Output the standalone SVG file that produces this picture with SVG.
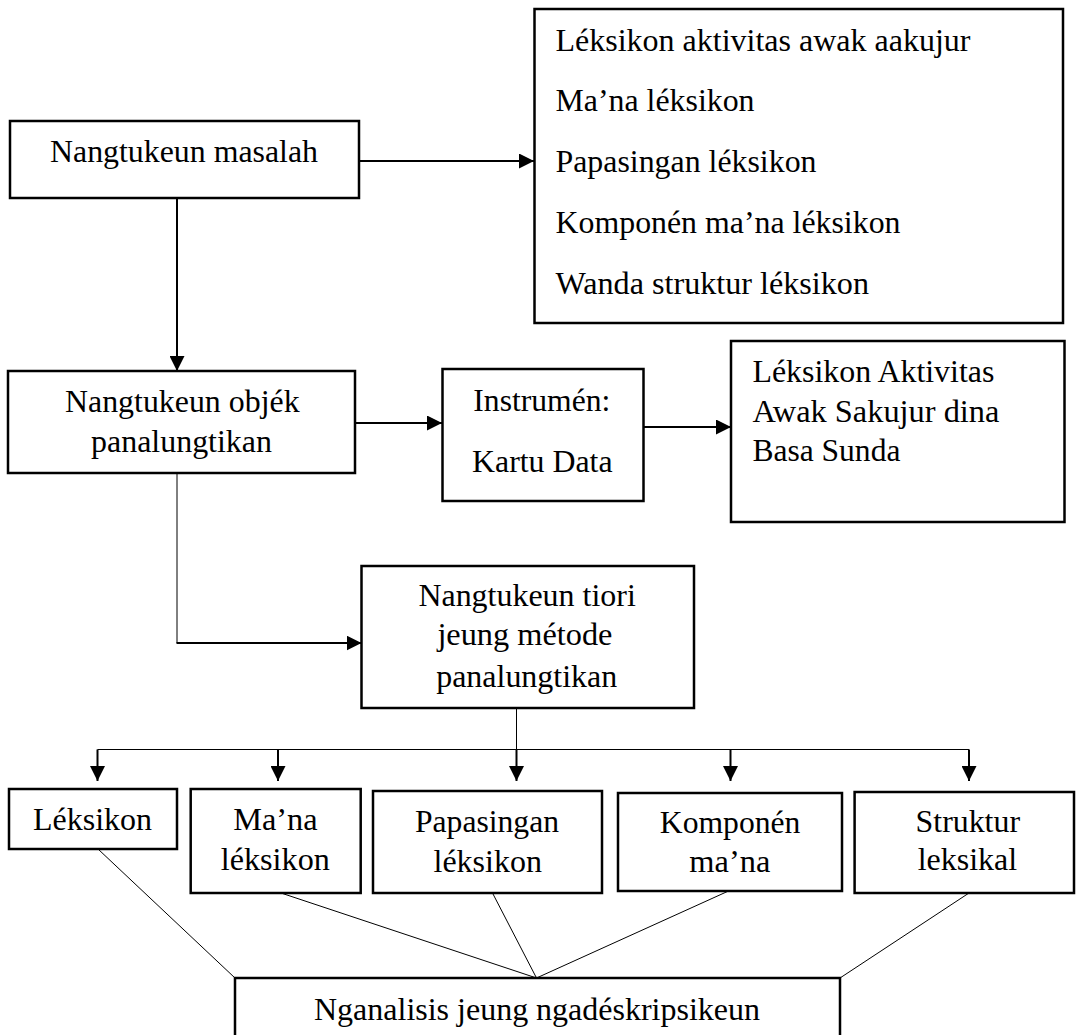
<svg xmlns="http://www.w3.org/2000/svg" width="1076" height="1035" viewBox="0 0 1076 1035" font-family="Liberation Serif" font-size="32">
<style>
.box{fill:#fff;stroke:#000;stroke-width:2.5}
.t{font-family:'Liberation Serif',serif;font-size:32px;fill:#000}
.thick{stroke:#000;stroke-width:2;fill:none}
.thin{stroke:#000;stroke-width:1;fill:none}
</style>
<defs>
<marker id="ah" markerUnits="userSpaceOnUse" markerWidth="15" markerHeight="15" refX="15" refY="7.5" orient="auto">
<path d="M0,0 L15,7.5 L0,15 z" fill="#000"/>
</marker>
</defs>
<rect width="1076" height="1035" fill="#fff"/>
<g id="connectors">
<line class="thick" x1="359" y1="161" x2="534" y2="161" marker-end="url(#ah)"/>
<line class="thick" x1="177" y1="198" x2="177" y2="371" marker-end="url(#ah)"/>
<line class="thick" x1="355" y1="423" x2="442" y2="423" marker-end="url(#ah)"/>
<line class="thick" x1="643" y1="427" x2="731" y2="427" marker-end="url(#ah)"/>
<line class="thin" x1="177" y1="473" x2="177" y2="643"/>
<line class="thick" x1="176.5" y1="643" x2="361.5" y2="643" marker-end="url(#ah)"/>
<line class="thin" x1="516.5" y1="708" x2="516.5" y2="749.5"/>
<line class="thin" x1="97.5" y1="749.5" x2="969" y2="749.5"/>
<line class="thick" x1="97.5" y1="749.5" x2="97.5" y2="781" marker-end="url(#ah)"/>
<line class="thick" x1="278" y1="749.5" x2="278" y2="781" marker-end="url(#ah)"/>
<line class="thick" x1="516.5" y1="749.5" x2="516.5" y2="781" marker-end="url(#ah)"/>
<line class="thick" x1="730.5" y1="749.5" x2="730.5" y2="781" marker-end="url(#ah)"/>
<line class="thick" x1="969" y1="749.5" x2="969" y2="781" marker-end="url(#ah)"/>
<line class="thin" x1="98" y1="849" x2="235" y2="978"/>
<line class="thin" x1="281" y1="893" x2="536.5" y2="978"/>
<line class="thin" x1="492.5" y1="893" x2="536.5" y2="978"/>
<line class="thin" x1="728.5" y1="891" x2="536.5" y2="978"/>
<line class="thin" x1="969" y1="893" x2="840" y2="978"/>
</g>
<g id="n1">
<rect class="box" x="10" y="121" width="349" height="77"/>
<text class="t" x="50" y="162" textLength="268" lengthAdjust="spacingAndGlyphs">Nangtukeun masalah</text>
</g>
<g id="n2">
<rect class="box" x="534.5" y="9" width="528.5" height="314"/>
<text class="t" x="555.5" y="51" textLength="415" lengthAdjust="spacingAndGlyphs">Léksikon aktivitas awak aakujur</text>
<text class="t" x="555.5" y="111" textLength="199" lengthAdjust="spacingAndGlyphs">Ma’na léksikon</text>
<text class="t" x="555.5" y="172" textLength="261" lengthAdjust="spacingAndGlyphs">Papasingan léksikon</text>
<text class="t" x="555.5" y="233" textLength="345" lengthAdjust="spacingAndGlyphs">Komponén ma’na léksikon</text>
<text class="t" x="555.5" y="294" textLength="313.5" lengthAdjust="spacingAndGlyphs">Wanda struktur léksikon</text>
</g>
<g id="n3">
<rect class="box" x="8" y="371" width="347" height="102"/>
<text class="t" x="65" y="412" textLength="234.6" lengthAdjust="spacingAndGlyphs">Nangtukeun objék</text>
<text class="t" x="91" y="452" textLength="181" lengthAdjust="spacingAndGlyphs">panalungtikan</text>
</g>
<g id="n4">
<rect class="box" x="442.5" y="369" width="201" height="132"/>
<text class="t" x="473.3" y="411" textLength="137" lengthAdjust="spacingAndGlyphs">Instrumén:</text>
<text class="t" x="472" y="472" textLength="140.6" lengthAdjust="spacingAndGlyphs">Kartu Data</text>
</g>
<g id="n5">
<rect class="box" x="731" y="341" width="333.5" height="181"/>
<text class="t" x="752.4" y="382" textLength="242" lengthAdjust="spacingAndGlyphs">Léksikon Aktivitas</text>
<text class="t" x="752.4" y="422" textLength="247" lengthAdjust="spacingAndGlyphs">Awak Sakujur dina</text>
<text class="t" x="752.4" y="461" textLength="148" lengthAdjust="spacingAndGlyphs">Basa Sunda</text>
</g>
<g id="n6">
<rect class="box" x="361.5" y="566" width="332.5" height="142"/>
<text class="t" x="418.4" y="606" textLength="217.4" lengthAdjust="spacingAndGlyphs">Nangtukeun tiori</text>
<text class="t" x="437.4" y="645" textLength="175" lengthAdjust="spacingAndGlyphs">jeung métode</text>
<text class="t" x="436.2" y="687" textLength="181" lengthAdjust="spacingAndGlyphs">panalungtikan</text>
</g>
<g id="n7">
<rect class="box" x="9" y="789" width="168" height="60"/>
<text class="t" x="33" y="830" textLength="119" lengthAdjust="spacingAndGlyphs">Léksikon</text>
</g>
<g id="n8">
<rect class="box" x="190.7" y="789" width="170" height="104"/>
<text class="t" x="233.2" y="829.5" textLength="84.4" lengthAdjust="spacingAndGlyphs">Ma’na</text>
<text class="t" x="220.8" y="870" textLength="109" lengthAdjust="spacingAndGlyphs">léksikon</text>
</g>
<g id="n9">
<rect class="box" x="373" y="791" width="229" height="102"/>
<text class="t" x="415" y="831.5" textLength="144" lengthAdjust="spacingAndGlyphs">Papasingan</text>
<text class="t" x="433.5" y="871.5" textLength="108.4" lengthAdjust="spacingAndGlyphs">léksikon</text>
</g>
<g id="n10">
<rect class="box" x="618" y="793" width="224" height="98"/>
<text class="t" x="659.8" y="833" textLength="140.6" lengthAdjust="spacingAndGlyphs">Komponén</text>
<text class="t" x="689.3" y="871.5" textLength="81" lengthAdjust="spacingAndGlyphs">ma’na</text>
</g>
<g id="n11">
<rect class="box" x="854.6" y="792" width="219.4" height="101"/>
<text class="t" x="915.6" y="831.5" textLength="104.4" lengthAdjust="spacingAndGlyphs">Struktur</text>
<text class="t" x="917.7" y="870" textLength="99.4" lengthAdjust="spacingAndGlyphs">leksikal</text>
</g>
<g id="n12">
<rect class="box" x="235" y="978" width="605" height="70"/>
<text class="t" x="314" y="1020" textLength="446" lengthAdjust="spacingAndGlyphs">Nganalisis jeung ngadéskripsikeun</text>
</g>
</svg>
